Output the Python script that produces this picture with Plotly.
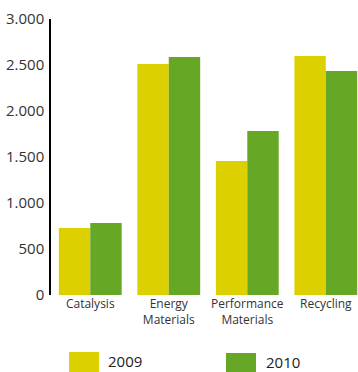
import plotly.graph_objects as go

# segments and sales values
categories = ["Catalysis", "Energy<br>Materials", "Performance<br>Materials", "Recycling"]
values_2009 = [728, 2511, 1457, 2598]
values_2010 = [783, 2587, 1783, 2435]
series_names = ["2009", "2010"]
colors = ["#DCD000", "#66A825"]
y_ticks = [0, 500, 1000, 1500, 2000, 2500, 3000]

W, H = 358, 372
L, R, T, B = 51, 0, 19, 77

fig = go.Figure()
for name, vals, col in zip(series_names, [values_2009, values_2010], colors):
    fig.add_trace(go.Bar(x=categories, y=vals, name=name, marker_color=col,
                         marker_line_width=0, showlegend=False))


# page pixel -> paper coords
def px_to_paper(x, y):
    return (x - L) / (W - L - R), (H - B - y) / (H - T - B)


# legend drawn by hand (big colour squares)
legend_items = [(69, 352, series_names[0], colors[0], 106, 361),
                (226, 353, series_names[1], colors[1], 264, 362)]
for x0, y0, label, col, tx, ty in legend_items:
    px0, py0 = px_to_paper(x0, y0)
    px1, py1 = px_to_paper(x0 + 30, y0 + 30)
    fig.add_shape(type="rect", xref="paper", yref="paper", x0=px0, x1=px1, y0=py1, y1=py0,
                  fillcolor=col, line_width=0)
    ax, ay = px_to_paper(tx, ty)
    fig.add_annotation(text=label, xref="paper", yref="paper", x=ax, y=ay,
                       xanchor="left", yanchor="middle", showarrow=False,
                       font=dict(size=15, color="#222222"))

fig.update_layout(
    width=W, height=H,
    margin=dict(l=L, r=R, t=T, b=B),
    paper_bgcolor="white", plot_bgcolor="white",
    font=dict(family="Open Sans", color="#333333"),
    barmode="group", bargap=0.2, bargroupgap=0,
    separators=",.",
)
fig.update_xaxes(range=[-0.5, 3.41], showline=False, showgrid=False, ticks="", ticklen=0,
                 tickfont=dict(size=12, color="#333333"))
fig.update_yaxes(range=[0, 3000], tickvals=y_ticks, tickformat=",d", showgrid=False,
                 zeroline=False, showline=True, linecolor="black", linewidth=1.5,
                 ticks="", ticklen=0, ticklabelstandoff=2,
                 tickfont=dict(size=15, color="#333333"))

# drop the default body margin so the figure fills the window exactly
fig.write_html("out.html", config={"displayModeBar": False},
               post_script="document.body.style.margin='0';")
